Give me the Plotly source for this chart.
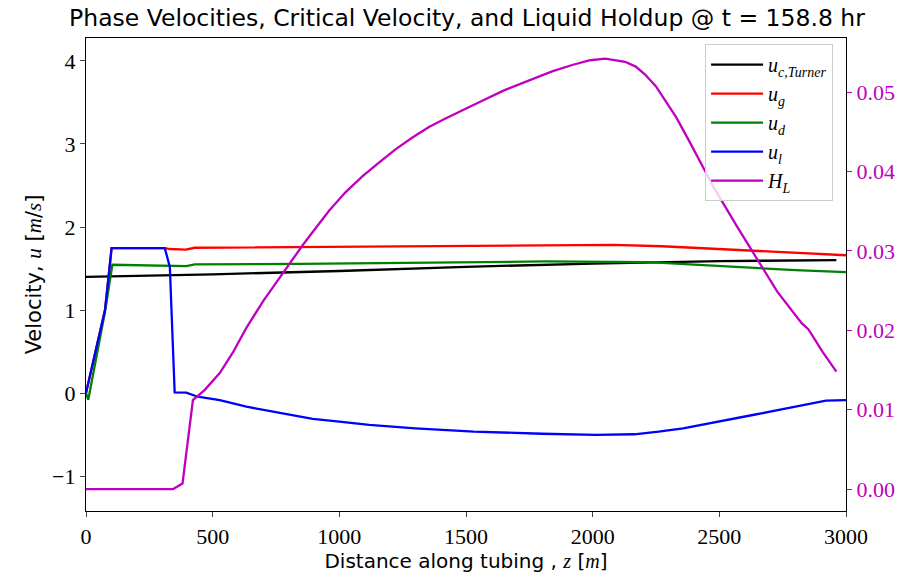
import plotly.graph_objects as go

# ---- data ----
z_c = [0, 500, 1000, 1500, 2000, 2500, 2962]
u_c = [1.40, 1.43, 1.47, 1.52, 1.56, 1.59, 1.60]

z_g = [0, 40, 75, 101, 311, 330, 394, 429, 843, 1500, 2081, 2274, 2450, 2618, 2800, 3000]
u_g = [0, 0.55, 1.0, 1.745, 1.745, 1.735, 1.728, 1.75, 1.76, 1.775, 1.785, 1.768, 1.742,
       1.717, 1.69, 1.66]

z_d = [0, 9, 40, 75, 104, 320, 396, 429, 843, 1806, 2219, 2420, 2632, 2800, 3000]
u_d = [0, -0.08, 0.42, 0.98, 1.545, 1.535, 1.53, 1.55, 1.557, 1.585, 1.576, 1.545, 1.509,
       1.48, 1.456]

z_l = [0, 40, 75, 101, 311, 331, 350, 396, 441, 528, 633, 760, 843, 895, 1000, 1118, 1300,
       1531, 1800, 2012, 2164, 2260, 2357, 2500, 2632, 2740, 2838, 2921, 3000]
u_l = [0, 0.55, 1.0, 1.745, 1.745, 1.52, 0.008, 0.005, -0.044, -0.084, -0.164, -0.235,
       -0.28, -0.31, -0.345, -0.384, -0.425, -0.464, -0.49, -0.504, -0.496, -0.465, -0.424,
       -0.345, -0.264, -0.2, -0.144, -0.092, -0.084]

z_h = [0, 344, 381, 409, 422, 469, 528, 580, 633, 700, 777, 855, 910, 961, 1025, 1092,
       1160, 1223, 1290, 1354, 1415, 1472, 1564, 1650, 1750, 1840, 1919, 1990, 2050, 2128,
       2170, 2207, 2250, 2286, 2330, 2378, 2430, 2483, 2575, 2632, 2728, 2825, 2852, 2907,
       2962]
H_L = [0, 0, 0.0007, 0.0077, 0.0112, 0.0125, 0.0146, 0.0172, 0.0203, 0.0237, 0.0272,
       0.0307, 0.0330, 0.0351, 0.0374, 0.0394, 0.0412, 0.0428, 0.0443, 0.0456, 0.0466,
       0.0475, 0.0489, 0.0502, 0.0515, 0.0526, 0.0534, 0.0540, 0.0542, 0.0538, 0.0532,
       0.0522, 0.0507, 0.0490, 0.0468, 0.0440, 0.0408, 0.0377, 0.0328, 0.0298, 0.0249,
       0.0209, 0.0201, 0.0173, 0.0148]

x_ticks = [0, 500, 1000, 1500, 2000, 2500, 3000]
y_ticks = [-1, 0, 1, 2, 3, 4]
y2_ticks = [0.00, 0.01, 0.02, 0.03, 0.04, 0.05]

MAG = "#BF00BF"
SERIF = "Liberation Serif"
SANS = "DejaVu Sans"


def m(t):
    return f"<span style='font-family:{SERIF}'><i>{t}</i></span>"


fig = go.Figure()
lw = 2.3
fig.add_trace(go.Scatter(x=z_c, y=u_c, mode="lines", line=dict(color="black", width=lw),
                         name="<i>u</i><sub><i>c,Turner</i></sub>"))
fig.add_trace(go.Scatter(x=z_g, y=u_g, mode="lines", line=dict(color="#FF0000", width=lw),
                         name="<i>u</i><sub><i>g</i></sub>"))
fig.add_trace(go.Scatter(x=z_d, y=u_d, mode="lines", line=dict(color="#008000", width=lw),
                         name="<i>u</i><sub><i>d</i></sub>"))
fig.add_trace(go.Scatter(x=z_l, y=u_l, mode="lines", line=dict(color="#0000FF", width=lw),
                         name="<i>u</i><sub><i>l</i></sub>"))
fig.add_trace(go.Scatter(x=z_h, y=H_L, mode="lines", line=dict(color=MAG, width=lw),
                         name="<i>H</i><sub><i>L</i></sub>", yaxis="y2"))

fig.update_layout(
    width=907, height=581,
    margin=dict(l=86, r=59, t=38, b=69),
    paper_bgcolor="white", plot_bgcolor="white",
    title=dict(text="Phase Velocities, Critical Velocity, and Liquid Holdup @ t = 158.8 hr",
               x=(86 + 848) / 2 / 907, xanchor="center", y=1 - 18 / 581, yanchor="middle",
               font=dict(family=SANS, size=23.5, color="black")),
    xaxis=dict(range=[0, 3000], tickvals=x_ticks, ticks="outside", ticklen=5,
               showline=True, linecolor="black", linewidth=1.2, mirror=True,
               showgrid=False, zeroline=False,
               tickfont=dict(family=SERIF, size=22, color="black"),
               title=dict(text="Distance along tubing , " + m("z") + " [" + m("m") + "]",
                          font=dict(family=SANS, size=20, color="black"), standoff=6)),
    yaxis=dict(range=[-1.42, 4.276], tickvals=y_ticks, ticks="outside", ticklen=5,
               showline=True, linecolor="black", linewidth=1.2, mirror=True,
               showgrid=False, zeroline=False,
               tickfont=dict(family=SERIF, size=22, color="black"),
               title=dict(text="Velocity, " + m("u") + " [" + m("m") + "/" + m("s") + "]",
                          font=dict(family=SANS, size=21, color="black"), standoff=4)),
    yaxis2=dict(range=[-0.00276, 0.0568], tickvals=y2_ticks, tickformat=".2f",
                overlaying="y", side="right", ticks="outside", ticklen=5,
                tickcolor=MAG, showline=False, showgrid=False, zeroline=False,
                tickfont=dict(family=SERIF, size=22, color=MAG)),
    legend=dict(x=0.983, xanchor="right", y=0.987, yanchor="top",
                bgcolor="rgba(255,255,255,0.8)", bordercolor="#CCCCCC", borderwidth=1,
                font=dict(family=SERIF, size=20, color="black"), tracegroupgap=0,
                itemwidth=52),
    showlegend=True,
)

fig.write_html("out.html")
